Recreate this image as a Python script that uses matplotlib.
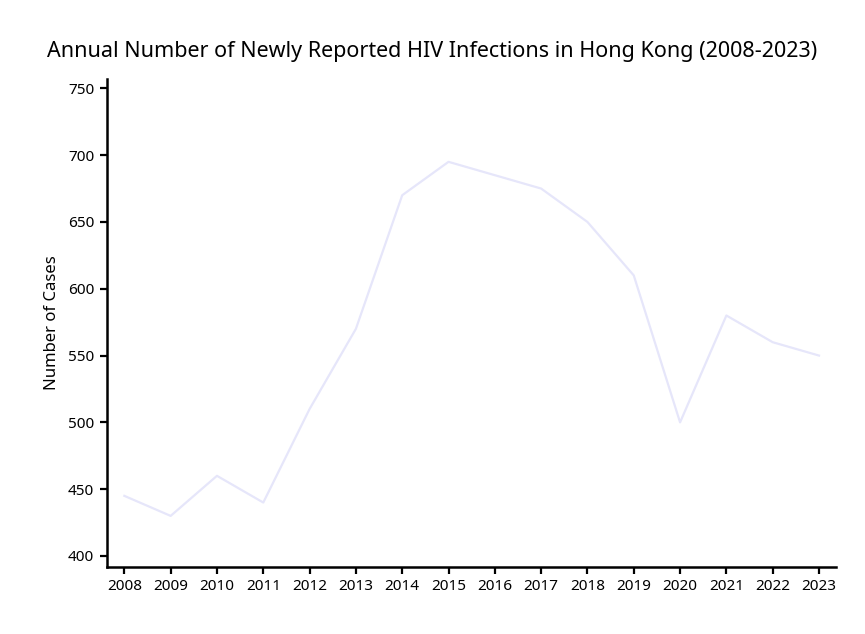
import matplotlib.pyplot as plt

# Дані: щорічна кількість нових випадків ВІЛ у Гонконзі
years = [2008, 2009, 2010, 2011, 2012, 2013, 2014, 2015,
         2016, 2017, 2018, 2019, 2020, 2021, 2022, 2023]
cases = [445, 430, 460, 440, 510, 570, 670, 695,
         685, 675, 650, 610, 500, 580, 560, 550]
y_ticks = [400, 450, 500, 550, 600, 650, 700, 750]

plt.rcParams['font.family'] = ['Noto Sans', 'DejaVu Sans']

fig = plt.figure(figsize=(8.65, 6.34), dpi=100)
ax = fig.add_axes([0.1234, 0.1062, 0.8427, 0.7692])

ax.plot(years, cases, color='#e6e6fa', linewidth=1.6)

ax.set_xlim(2007.62, 2023.36)
ax.set_ylim(392, 757)
ax.set_xticks(years)
ax.set_yticks(y_ticks)
ax.tick_params(labelsize=11, width=1.6, length=5, color='black', pad=4)

for side in ['top', 'right']:
    ax.spines[side].set_visible(False)
for side in ['left', 'bottom']:
    ax.spines[side].set_linewidth(1.8)

ax.set_ylabel('Number of Cases', fontsize=12, labelpad=6)
fig.suptitle('Annual Number of Newly Reported HIV Infections in Hong Kong (2008-2023)',
             fontsize=15.5, x=0.5, y=0.935)

fig.savefig('out.png', dpi=100)
